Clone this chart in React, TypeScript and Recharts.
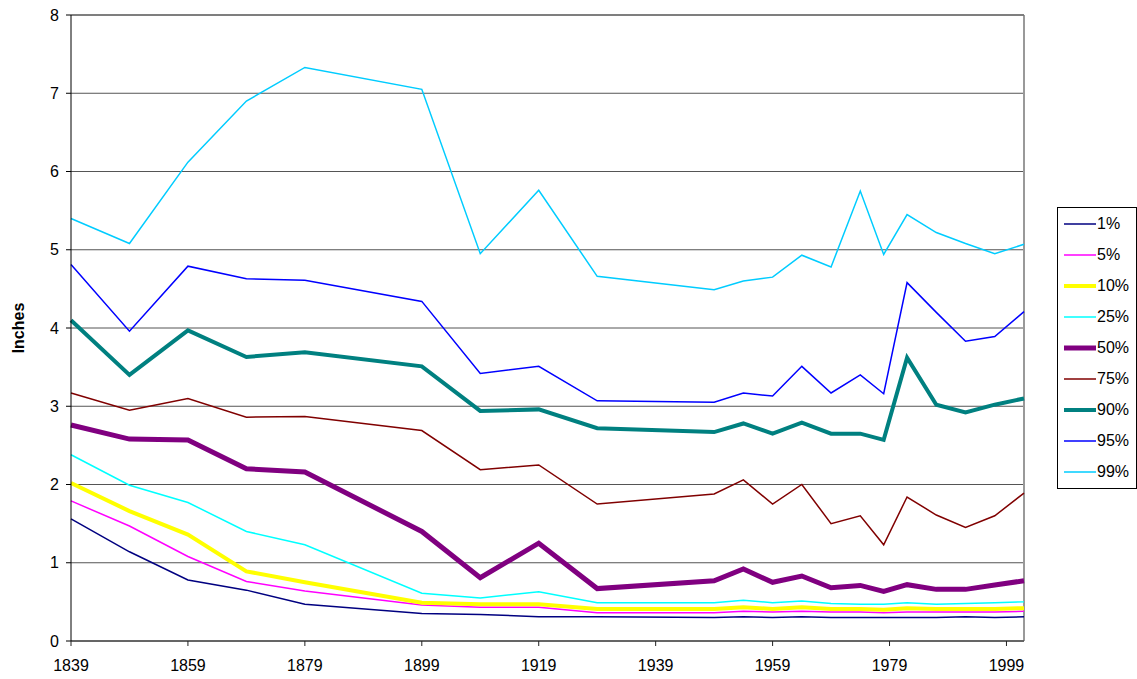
import { CartesianGrid, Legend, Line, LineChart, ReferenceLine, XAxis, YAxis } from "recharts";

const years = [1839, 1849, 1859, 1869, 1879, 1899, 1909, 1919, 1929, 1949, 1954, 1959, 1964, 1969, 1974, 1978, 1982, 1987, 1992, 1997, 2002];

const p1 = [1.56, 1.14, 0.78, 0.65, 0.47, 0.35, 0.34, 0.31, 0.31, 0.3, 0.31, 0.3, 0.31, 0.3, 0.3, 0.3, 0.3, 0.3, 0.31, 0.3, 0.31];
const p5 = [1.79, 1.47, 1.08, 0.76, 0.64, 0.46, 0.43, 0.43, 0.36, 0.36, 0.38, 0.37, 0.38, 0.37, 0.37, 0.36, 0.37, 0.37, 0.37, 0.37, 0.38];
const p10 = [2.02, 1.66, 1.36, 0.89, 0.75, 0.49, 0.47, 0.47, 0.41, 0.41, 0.43, 0.41, 0.43, 0.41, 0.41, 0.4, 0.42, 0.41, 0.41, 0.41, 0.42];
const p25 = [2.38, 1.99, 1.77, 1.4, 1.23, 0.61, 0.55, 0.63, 0.49, 0.49, 0.52, 0.49, 0.51, 0.48, 0.47, 0.47, 0.49, 0.47, 0.48, 0.49, 0.5];
const p50 = [2.76, 2.58, 2.57, 2.2, 2.16, 1.4, 0.81, 1.25, 0.67, 0.77, 0.92, 0.75, 0.83, 0.68, 0.71, 0.635, 0.72, 0.66, 0.66, 0.715, 0.77];
const p75 = [3.17, 2.95, 3.1, 2.86, 2.87, 2.69, 2.19, 2.25, 1.75, 1.88, 2.06, 1.75, 2.0, 1.5, 1.6, 1.23, 1.84, 1.61, 1.45, 1.6, 1.89];
const p90 = [4.1, 3.4, 3.97, 3.63, 3.69, 3.51, 2.94, 2.96, 2.72, 2.67, 2.78, 2.65, 2.79, 2.65, 2.65, 2.57, 3.62, 3.02, 2.92, 3.02, 3.1];
const p95 = [4.81, 3.96, 4.79, 4.63, 4.61, 4.34, 3.42, 3.51, 3.07, 3.05, 3.17, 3.13, 3.51, 3.17, 3.4, 3.16, 4.58, 4.2, 3.83, 3.89, 4.21];
const p99 = [5.4, 5.08, 6.12, 6.9, 7.33, 7.05, 4.95, 5.76, 4.66, 4.49, 4.6, 4.65, 4.93, 4.78, 5.75, 4.94, 5.45, 5.22, 5.08, 4.95, 5.07];

const xTicks = [1839, 1859, 1879, 1899, 1919, 1939, 1959, 1979, 1999];
const yTicks = [0, 1, 2, 3, 4, 5, 6, 7, 8];

const series = [
  { key: "p1", name: "1%", values: p1, color: "#000080", width: 1.5 },
  { key: "p5", name: "5%", values: p5, color: "#ff00ff", width: 1.5 },
  { key: "p10", name: "10%", values: p10, color: "#ffff00", width: 4 },
  { key: "p25", name: "25%", values: p25, color: "#00ffff", width: 1.5 },
  { key: "p50", name: "50%", values: p50, color: "#800080", width: 5 },
  { key: "p75", name: "75%", values: p75, color: "#800000", width: 1.5 },
  { key: "p90", name: "90%", values: p90, color: "#008080", width: 4 },
  { key: "p95", name: "95%", values: p95, color: "#0000ff", width: 1.5 },
  { key: "p99", name: "99%", values: p99, color: "#00ccff", width: 1.5 },
];

const data = years.map((year, i) => {
  const row: Record<string, number> = { year };
  series.forEach((s) => (row[s.key] = s.values[i]));
  return row;
});

const font = "'Liberation Sans', Arial, sans-serif";

function LegendBox() {
  return (
    <div style={{ border: "1px solid #000", background: "#fff", boxSizing: "border-box", width: 80, height: 282, fontFamily: font, fontSize: 16, color: "#000" }}>
      {series.map((s) => (
        <div key={s.key} style={{ height: 31.1, display: "flex", alignItems: "center" }}>
          <svg width={40} height={10} style={{ marginLeft: 5 }}>
            <line x1={1} x2={33} y1={5} y2={5} stroke={s.color} strokeWidth={s.width} />
          </svg>
          <span style={{ marginLeft: -6 }}>{s.name}</span>
        </div>
      ))}
    </div>
  );
}

export default function App() {
  return (
    <div style={{ position: "absolute", left: 0, top: 0, width: 1137, height: 679, background: "#fff" }}>
      <LineChart width={1137} height={679} data={data} margin={{ top: 15, right: 33, bottom: 0, left: 0 }}>
        <CartesianGrid vertical={false} stroke="#555" strokeOpacity={1} />
        <XAxis
          dataKey="year"
          type="number"
          domain={[1839, 2002]}
          ticks={xTicks}
          interval={0}
          height={38}
          tickSize={5}
          tickMargin={14}
          stroke="#222"
          tick={{ fill: "#000", fontSize: 16, fontFamily: font }}
        />
        <YAxis
          domain={[0, 8]}
          ticks={yTicks}
          interval={0}
          width={71}
          tickSize={5}
          tickMargin={7}
          stroke="#000"
          tick={{ fill: "#000", fontSize: 16, fontFamily: font }}
          label={{
            content: () => (
              <text x={24} y={328} transform="rotate(-90 24 328)" textAnchor="middle" fontFamily={font} fontSize={16} fontWeight="bold" fill="#000">
                Inches
              </text>
            ),
          }}
        />
        <ReferenceLine x={2002} stroke="#999" strokeWidth={2} />
        <ReferenceLine y={8} stroke="#555" />
        {series.map((s) => (
          <Line
            key={s.key}
            dataKey={s.key}
            name={s.name}
            type="linear"
            stroke={s.color}
            strokeWidth={s.width}
            dot={false}
            activeDot={false}
            isAnimationActive={false}
          />
        ))}
        <Legend
          layout="vertical"
          align="right"
          verticalAlign="top"
          content={() => <LegendBox />}
          wrapperStyle={{ position: "absolute", left: 1057, top: 207, width: 80, height: 282 }}
        />
      </LineChart>
    </div>
  );
}
